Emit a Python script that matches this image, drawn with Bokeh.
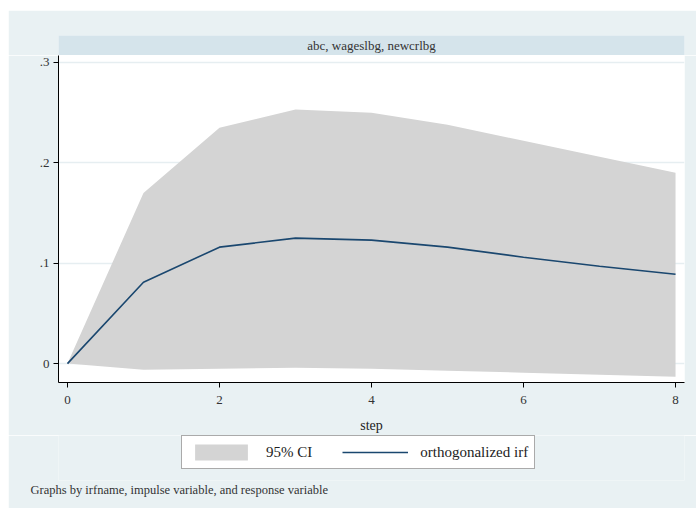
from bokeh.plotting import figure
from bokeh.layouts import column
from bokeh.models import Legend, LegendItem, FixedTicker, Range1d, Title
from bokeh.core.properties import value
from bokeh.embed import file_html
from bokeh.resources import INLINE

# data
steps = [0, 1, 2, 3, 4, 5, 6, 7, 8]
irf = [0.0, 0.081, 0.116, 0.125, 0.123, 0.116, 0.106, 0.097, 0.089]
ci_upper = [0.0, 0.170, 0.235, 0.253, 0.250, 0.238, 0.222, 0.206, 0.190]
ci_lower = [0.0, -0.006, -0.005, -0.004, -0.005, -0.007, -0.009, -0.011, -0.013]
y_ticks = [0, 0.1, 0.2, 0.3]
y_tick_labels = ["0", ".1", ".2", ".3"]
x_ticks = [0, 2, 4, 6, 8]
strip_title = "abc, wageslbg, newcrlbg"
x_label = "step"
legend_labels = ["95% CI", "orthogonalized irf"]
note = "Graphs by irfname, impulse variable, and response variable"

FONT = "Liberation Serif"
OUTER = "#E9F1F3"
STRIP = "#D5E4EB"
GRID = "#E6EEF1"
NAVY = "#1A476F"
CIGRAY = "#D4D4D4"

W = 688

# strip figure (by-group title bar)
s = figure(width=W, height=45, x_range=Range1d(0, 1), y_range=Range1d(0, 1),
           output_backend="svg", toolbar_location=None,
           min_border_left=50, min_border_right=12, min_border_top=25, min_border_bottom=0)
s.axis.visible = False
s.grid.visible = False
s.outline_line_color = None
s.background_fill_color = STRIP
s.border_fill_color = OUTER
s.text(x=[0.5], y=[0.5], text=[strip_title], text_align="center", text_baseline="middle",
       text_font=value(FONT), text_font_size="13px", text_color="#333333")

# main figure
p = figure(width=W, height=380, x_range=(-0.118, 8.118), y_range=(-0.0188, 0.3069),
           output_backend="svg", toolbar_location=None,
           min_border_left=50, min_border_right=12, min_border_top=0, min_border_bottom=52)
p.background_fill_color = "white"
p.border_fill_color = OUTER
p.outline_line_color = None

ci = p.varea(x=steps, y1=ci_lower, y2=ci_upper, fill_color=CIGRAY)
ln = p.line(x=steps, y=irf, line_color=NAVY, line_width=1.6)

p.yaxis.ticker = FixedTicker(ticks=y_ticks)
p.yaxis.major_label_overrides = {t: l for t, l in zip(y_ticks, y_tick_labels)}
p.xaxis.ticker = FixedTicker(ticks=x_ticks)
for ax in (p.xaxis[0], p.yaxis[0]):
    ax.axis_line_color = "black"
    ax.major_tick_line_color = "black"
    ax.major_tick_out = 5
    ax.major_tick_in = 0
    ax.minor_tick_line_color = None
    ax.major_label_text_font = FONT
    ax.major_label_text_font_size = "13px"
    ax.major_label_text_color = "#333333"
p.xaxis.major_label_standoff = 8
p.yaxis.major_label_standoff = 4
p.xaxis.axis_label = x_label
p.xaxis.axis_label_text_font = FONT
p.xaxis.axis_label_text_font_size = "14px"
p.xaxis.axis_label_text_font_style = "normal"
p.xaxis.axis_label_standoff = 11
p.xaxis.axis_label_text_color = "#222222"

p.xgrid.grid_line_color = None
p.ygrid.grid_line_color = GRID
p.ygrid.grid_line_width = 1.5

# bottom figure: legend + note
b = figure(width=W, height=73, x_range=Range1d(0, 1), y_range=Range1d(0, 1),
           output_backend="svg", toolbar_location=None,
           min_border_left=50, min_border_right=12, min_border_top=0, min_border_bottom=28)
b.axis.visible = False
b.grid.visible = False
b.outline_line_color = None
b.background_fill_color = OUTER
b.border_fill_color = OUTER
ci_b = b.varea(x=steps, y1=ci_lower, y2=ci_upper, fill_color=CIGRAY, visible=False)
ln_b = b.line(x=steps, y=irf, line_color=NAVY, line_width=1.6, visible=False)

legend = Legend(items=[LegendItem(label=legend_labels[0], renderers=[ci_b]),
                       LegendItem(label=legend_labels[1], renderers=[ln_b])],
                orientation="horizontal", location=(123, 11),
                border_line_color="#555555", border_line_width=1,
                background_fill_color="white", background_fill_alpha=1,
                glyph_width=66, glyph_height=20, label_standoff=12, spacing=30,
                padding=6, margin=0,
                label_text_font=FONT, label_text_font_size="15px", label_text_color="#222222")
b.add_layout(legend, "center")

b.add_layout(Title(text=note, align="left", offset=-28, standoff=0,
                   text_font=FONT, text_font_size="12.5px", text_font_style="normal",
                   text_color="#333333"), "below")

layout = column(s, p, b, spacing=0, margin=(10, 0, 0, 8))
open("out.html", "w").write(file_html(layout, INLINE))
